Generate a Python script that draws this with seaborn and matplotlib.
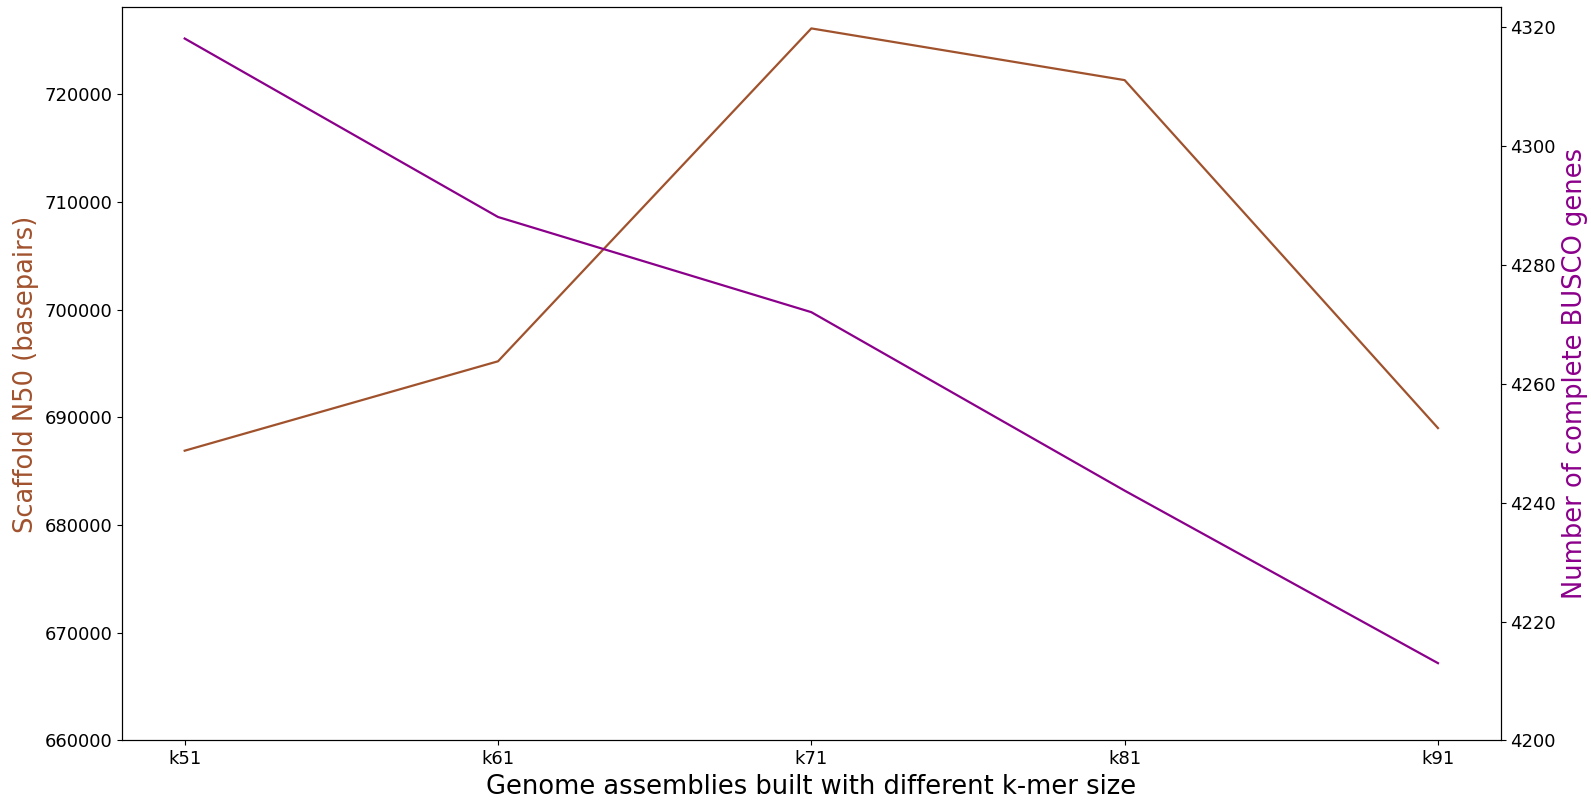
import matplotlib
matplotlib.use("Agg")
import matplotlib.pyplot as plt
import seaborn as sns
import pandas as pd

# k-mer sizes of the genome assemblies
kmers = ["k51", "k61", "k71", "k81", "k91"]
# Scaffold N50 per assembly (basepairs)
scaffold_n50 = [686900, 695200, 726100, 721300, 689000]
# Complete BUSCO genes per assembly
busco_complete = [4318, 4288, 4272, 4242, 4213]

n50_color = "#A0522D"
busco_color = "#8B008B"

df = pd.DataFrame({"kmer": kmers, "n50": scaffold_n50, "busco": busco_complete})

fig, ax = plt.subplots(figsize=(15.91, 8.02), dpi=100)
fig.subplots_adjust(left=0.0767, right=0.9432, bottom=0.0767, top=0.9909)

sns.lineplot(data=df, x="kmer", y="n50", color=n50_color, linewidth=1.6,
             sort=False, ax=ax)
ax.set_ylim(bottom=660000)
ax.set_xlabel("Genome assemblies built with different k-mer size", fontsize=18.5)
ax.set_ylabel("Scaffold N50 (basepairs)", color=n50_color, fontsize=18.5)
ax.tick_params(axis="both", labelsize=13)

ax2 = ax.twinx()
sns.lineplot(data=df, x="kmer", y="busco", color=busco_color, linewidth=1.6,
             sort=False, ax=ax2)
ax2.set_ylim(bottom=4200)
ax2.set_ylabel("Number of complete BUSCO genes", color=busco_color, fontsize=18.5)
ax2.tick_params(axis="y", labelsize=13)

fig.savefig("out.png", dpi=100)
